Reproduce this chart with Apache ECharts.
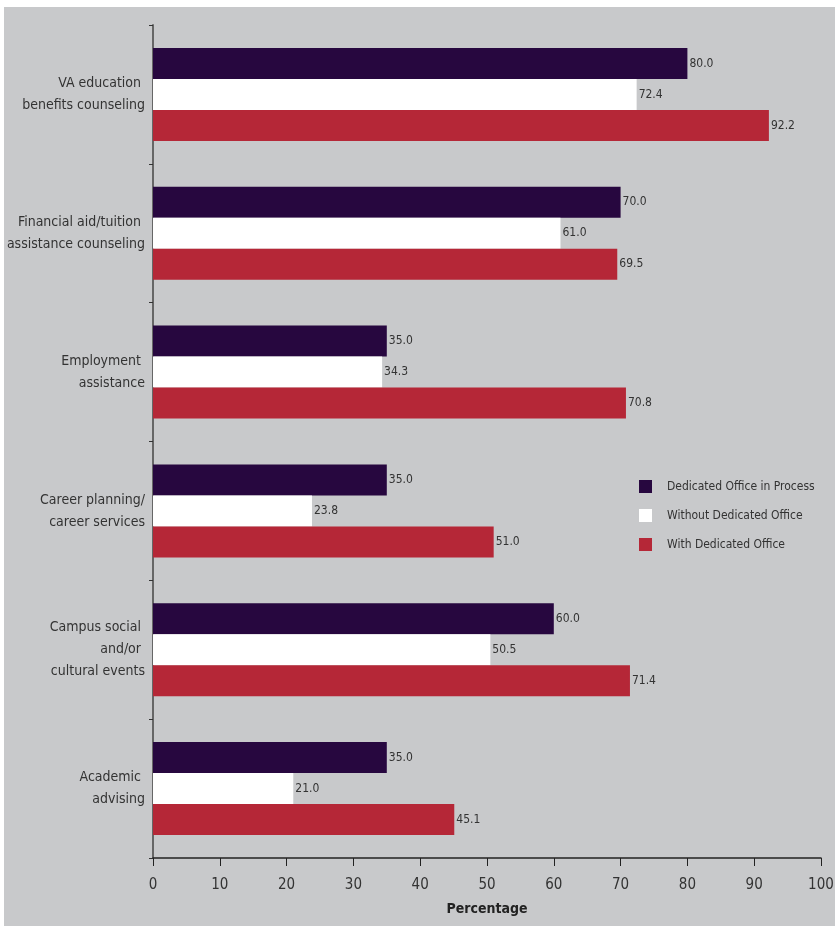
<!DOCTYPE html>
<html>
<head>
<meta charset="utf-8">
<script src="https://cdn.jsdelivr.net/npm/echarts@6/dist/echarts.min.js"></script>
<style>
  html,body{margin:0;padding:0;background:#fff;}
  #panel{position:absolute;left:4px;top:7px;width:831px;height:919px;background:#c8c9cb;}
  #chart{position:absolute;left:0;top:0;width:835px;height:926px;}
</style>
</head>
<body>
<div id="panel"></div>
<div id="chart"></div>
<script>
  // categories (top to bottom)
  var categories = [
    'VA education \nbenefits counseling',
    'Financial aid/tuition \nassistance counseling',
    'Employment \nassistance',
    'Career planning/\ncareer services',
    'Campus social \nand/or \ncultural events',
    'Academic \nadvising'
  ];
  var inProcess = [80.0, 70.0, 35.0, 35.0, 60.0, 35.0];
  var withoutOffice = [72.4, 61.0, 34.3, 23.8, 50.5, 21.0];
  var withOffice = [92.2, 69.5, 70.8, 51.0, 71.4, 45.1];
  var xTicks = [0, 10, 20, 30, 40, 50, 60, 70, 80, 90, 100];

  var font = '"Liberation Sans Narrow", "DejaVu Sans Condensed", sans-serif';

  function barSeries(name, data, color){
    return {
      name: name,
      type: 'bar',
      data: data,
      barWidth: 31,
      barGap: '0%',
      itemStyle: {color: color},
      label: {
        show: true,
        position: 'right',
        distance: 2,
        color: '#333',
        fontSize: 12,
        fontFamily: font,
        formatter: function(p){ return p.value.toFixed(1); }
      }
    };
  }

  var chart = echarts.init(document.getElementById('chart'));
  chart.setOption({
    animation: false,
    backgroundColor: 'transparent',
    textStyle: {fontFamily: font},
    grid: {left: 153, right: 14, top: 25, bottom: 68, containLabel: false, outerBoundsMode: 'none'},
    legend: {
      orient: 'vertical',
      left: 634,
      top: 475,
      itemWidth: 13,
      itemHeight: 13,
      itemGap: 16,
      icon: 'rect',
      textStyle: {color: '#333', fontSize: 12, fontFamily: font, padding: [0, 0, 0, 10]},
      data: ['Dedicated Office in Process', 'Without Dedicated Office', 'With Dedicated Office']
    },
    xAxis: {
      type: 'value',
      min: xTicks[0],
      max: xTicks[xTicks.length - 1],
      interval: 10,
      name: 'Percentage',
      nameLocation: 'middle',
      nameGap: 44,
      nameTextStyle: {color: '#222', fontSize: 14, fontWeight: 'bold', fontFamily: font},
      axisLine: {show: true, lineStyle: {color: '#222', width: 1.5}},
      axisTick: {show: true, length: 8, lineStyle: {color: '#222'}},
      axisLabel: {color: '#333', fontSize: 15, margin: 20, fontFamily: font},
      splitLine: {show: false}
    },
    yAxis: {
      type: 'category',
      inverse: true,
      data: categories,
      axisLine: {show: true, lineStyle: {color: '#666', width: 2}},
      axisTick: {show: true, length: 4, lineStyle: {color: '#333'}},
      axisLabel: {color: '#333', fontSize: 14, lineHeight: 22, margin: 8, align: 'right', fontFamily: font}
    },
    series: [
      barSeries('Dedicated Office in Process', inProcess, '#27073f'),
      barSeries('Without Dedicated Office', withoutOffice, '#ffffff'),
      barSeries('With Dedicated Office', withOffice, '#b52737')
    ]
  });
</script>
</body>
</html>
